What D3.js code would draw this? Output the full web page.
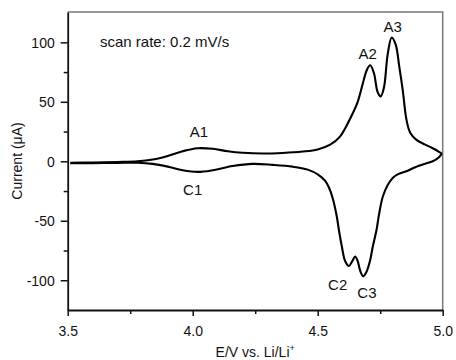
<!DOCTYPE html>
<html><head><meta charset="utf-8">
<script src="https://cdn.jsdelivr.net/npm/d3@7"></script>
<style>body{margin:0;background:#fff}svg{display:block}text{font-family:"Liberation Sans",Arial,sans-serif}</style>
</head><body><svg id="c" width="456" height="360"></svg>
<script>
// Anodic sweep (E increasing)
const anodicE = [3.51,3.60,3.70,3.78,3.84,3.90,3.96,4.02,4.08,4.14,4.20,4.28,4.36,4.44,4.50,4.55,4.59,4.63,4.66,4.68,4.697,4.71,4.725,4.74,4.752,4.765,4.78,4.796,4.812,4.826,4.84,4.855,4.87,4.895,4.93,4.96,4.985,4.995];
const anodicI = [-1.2,-1.0,-0.6,0.0,1.5,4.5,8.5,11,10.5,8.5,7.2,6.5,7.0,8.2,10,14,21,36,50,65,77,80.7,74,58,54.6,62,90,104,98,80,60,35,24,18,14,11,8,6.5];
// Cathodic sweep (E decreasing)
const cathodicE = [4.985,4.96,4.93,4.89,4.855,4.82,4.80,4.78,4.76,4.745,4.735,4.72,4.71,4.695,4.682,4.67,4.66,4.65,4.638,4.625,4.61,4.596,4.585,4.576,4.56,4.545,4.53,4.50,4.46,4.40,4.32,4.24,4.16,4.08,4.02,3.96,3.90,3.84,3.78,3.70,3.60,3.51];
const cathodicI = [3.5,0,-2,-5,-8.4,-11,-14,-20,-30,-45,-58,-72,-83,-93,-96.6,-92,-84,-80,-84,-88,-84,-71,-58,-46,-31,-22,-16.5,-11,-7,-4.5,-3,-2.2,-4,-7.5,-8.9,-7.5,-4.5,-2.2,-1.2,-1.3,-1.5,-1.5];
const xTicks = [3.5,4.0,4.5,5.0];
const xTickLabels = ["3.5","4.0","4.5","5.0"];
const xMinor = [3.75,4.25,4.75];
const yTicks = [-100,-50,0,50,100];
const yTickLabels = ["-100","-50","0","50","100"];
const yMinor = [-75,-25,25,75];
const peakLabels = ["A1","C1","A2","A3","C2","C3"];
const peakE = [4.025,4.0,4.70,4.80,4.58,4.697];
const peakI = [20.8,-28,86.3,109,-107.8,-114.5];

const svg = d3.select("#c");
const L=67.7, R=442.7, T=12, B=310;
const x = d3.scaleLinear().domain([3.5,5.0]).range([L,R]);
const y = d3.scaleLinear().domain([-125,125.5]).range([B,T]);

// frame (top/right grey)
svg.append("path").attr("d",`M${L},${T}H${R}V${B}`).attr("fill","none").attr("stroke","#777").attr("stroke-width",1.5);

const xAx = svg.append("g").attr("transform",`translate(0,${B})`)
  .call(d3.axisBottom(x).tickValues(xTicks).tickFormat((d,i)=>xTickLabels[i]).tickSize(6).tickSizeOuter(0));
svg.append("g").attr("transform",`translate(0,${B})`)
  .call(d3.axisBottom(x).tickValues(xMinor).tickFormat("").tickSize(4).tickSizeOuter(0))
  .select(".domain").remove();
const yAx = svg.append("g").attr("transform",`translate(${L},0)`)
  .call(d3.axisLeft(y).tickValues(yTicks).tickFormat((d,i)=>yTickLabels[i]).tickSize(7).tickSizeOuter(0));
svg.append("g").attr("transform",`translate(${L},0)`)
  .call(d3.axisLeft(y).tickValues(yMinor).tickFormat("").tickSize(4).tickSizeOuter(0))
  .select(".domain").remove();
svg.selectAll(".domain").attr("stroke","#111").attr("stroke-width",1.8);
svg.selectAll(".tick line").attr("stroke","#111").attr("stroke-width",1.5);
svg.selectAll(".tick text").attr("font-size",14).attr("fill","#111").attr("font-family","Liberation Sans, Arial, sans-serif");
xAx.selectAll(".tick text").attr("dy","1.2em");
yAx.selectAll(".tick text").attr("x",-13).attr("dy","0.35em");

// data
const pts = anodicE.map((e,i)=>[e,anodicI[i]]).concat(cathodicE.map((e,i)=>[e,cathodicI[i]]));
const line = d3.line().x(d=>x(d[0])).y(d=>y(d[1])).curve(d3.curveCatmullRom.alpha(0.5));
svg.append("path").datum(pts).attr("d",line).attr("fill","none").attr("stroke","#000").attr("stroke-width",2.1).attr("stroke-linejoin","round");

// peak labels
svg.selectAll("text.pk").data(peakLabels).enter().append("text").attr("class","pk")
  .attr("x",(d,i)=>x(peakE[i])).attr("y",(d,i)=>y(peakI[i])).attr("text-anchor","middle")
  .attr("font-size",15).attr("fill","#111").text(d=>d);

svg.append("text").attr("x",100).attr("y",47).attr("font-size",15).attr("fill","#111").text("scan rate: 0.2 mV/s");

// axis titles
svg.append("text").attr("transform",`translate(22,${(T+B)/2}) rotate(-90)`).attr("text-anchor","middle")
  .attr("font-size",14).attr("fill","#111").text("Current (\u03bcA)");
const xt = svg.append("text").attr("x",(L+R)/2).attr("y",357).attr("text-anchor","middle").attr("font-size",14).attr("fill","#111");
xt.append("tspan").text("E/V vs. Li/Li");
xt.append("tspan").attr("dy",-6).attr("font-size",9).text("+");
</script></body></html>
